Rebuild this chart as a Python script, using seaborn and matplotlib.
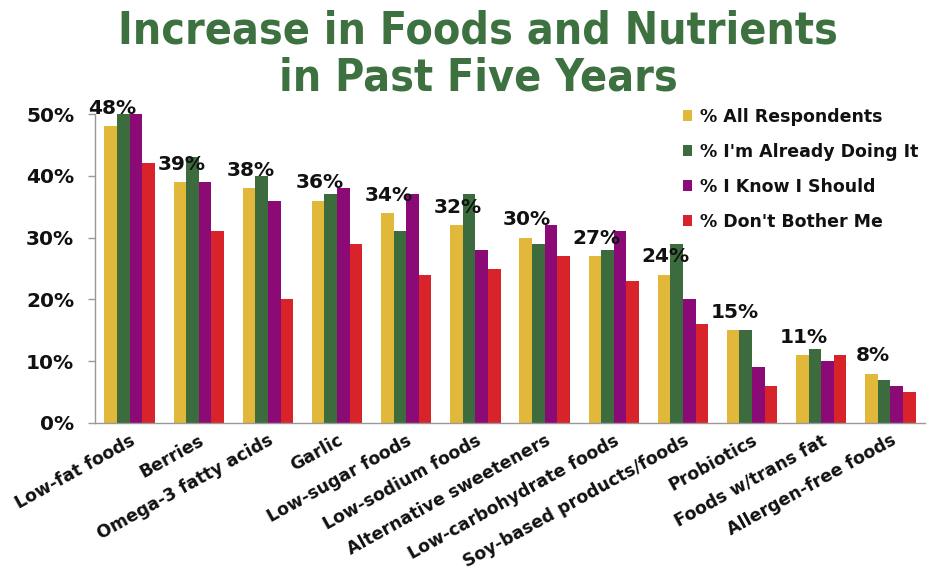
import matplotlib
matplotlib.use("Agg")
import matplotlib.pyplot as plt
import seaborn as sns
import pandas as pd

categories = ["Low-fat foods", "Berries", "Omega-3 fatty acids", "Garlic",
              "Low-sugar foods", "Low-sodium foods", "Alternative sweeteners",
              "Low-carbohydrate foods", "Soy-based products/foods", "Probiotics",
              "Foods w/trans fat", "Allergen-free foods"]
series_names = ["% All Respondents", "% I'm Already Doing It",
                "% I Know I Should", "% Don't Bother Me"]
all_respondents = [48, 39, 38, 36, 34, 32, 30, 27, 24, 15, 11, 8]
already_doing = [50, 43, 40, 37, 31, 37, 29, 28, 29, 15, 12, 7]
know_should = [50, 39, 36, 38, 37, 28, 32, 31, 20, 9, 10, 6]
dont_bother = [42, 31, 20, 29, 24, 25, 27, 23, 16, 6, 11, 5]
y_ticks = [0, 10, 20, 30, 40, 50]
y_tick_labels = ["0%", "10%", "20%", "30%", "40%", "50%"]
title = "Increase in Foods and Nutrients\nin Past Five Years"

colors = ["#E1B83A", "#3C6B3D", "#8C0A76", "#D8232A"]

rows = []
for name, vals in zip(series_names, [all_respondents, already_doing, know_should, dont_bother]):
    for c, v in zip(categories, vals):
        rows.append({"category": c, "series": name, "value": v})
df = pd.DataFrame(rows)

sns.set_theme(style="white")
plt.rcParams["font.family"] = ["DejaVu Sans"]

fig = plt.figure(figsize=(9.27, 5.83), dpi=100)
ax = fig.add_axes([95/927, 1 - 423/583, 830/927, (423 - 114)/583])

sns.barplot(data=df, x="category", y="value", hue="series", palette=colors,
            width=0.73, gap=0, saturation=1, linewidth=0, ax=ax, legend=True)

ax.set_ylim(0, 50)
ax.set_xlim(-0.5, len(categories) - 0.5)
ax.set_yticks(y_ticks)
ax.set_yticklabels(y_tick_labels, fontsize=14.5, fontweight="bold", color="#111111")
ax.set_xticks(range(len(categories)))
ax.set_xticklabels(categories, rotation=29, ha="right", rotation_mode="anchor",
                   fontsize=12.5, fontweight="bold", color="#111111")
ax.set_xticks([i - 0.5 for i in range(len(categories) + 1)], minor=True)
ax.tick_params(axis="x", which="major", length=0, pad=6)
ax.tick_params(axis="x", which="minor", length=5, color="#999999", width=1)
ax.tick_params(axis="y", which="major", length=5, color="#999999", width=1, pad=10, left=True)
ax.set_xlabel("")
ax.set_ylabel("")
for s in ["top", "right"]:
    ax.spines[s].set_visible(False)
for s in ["left", "bottom"]:
    ax.spines[s].set_color("#999999")
    ax.spines[s].set_linewidth(1)

# value labels above the "All Respondents" bars
for p, v in zip(ax.containers[0].patches, all_respondents):
    ax.annotate(f"{v}%", (p.get_x() + p.get_width() / 2, p.get_height()),
                xytext=(1, 6), textcoords="offset points", ha="center", va="bottom",
                fontsize=14.5, fontweight="bold", color="#111111")

leg = ax.legend(loc="upper left", bbox_to_anchor=(667/927, 1 - 92/583),
                bbox_transform=fig.transFigure, frameon=False,
                prop={"weight": "bold", "size": 12.5}, handlelength=0.55,
                handleheight=0.55, handletextpad=0.45, labelspacing=0.98)
for t in leg.get_texts():
    t.set_color("#111111")

fig.text(478/927, 1 - 9/583, title, ha="center", va="top", fontsize=32,
         fontweight="bold", fontstretch="condensed", color="#3D7140",
         linespacing=1.12, family="DejaVu Sans")

fig.savefig("out.png", dpi=100)
